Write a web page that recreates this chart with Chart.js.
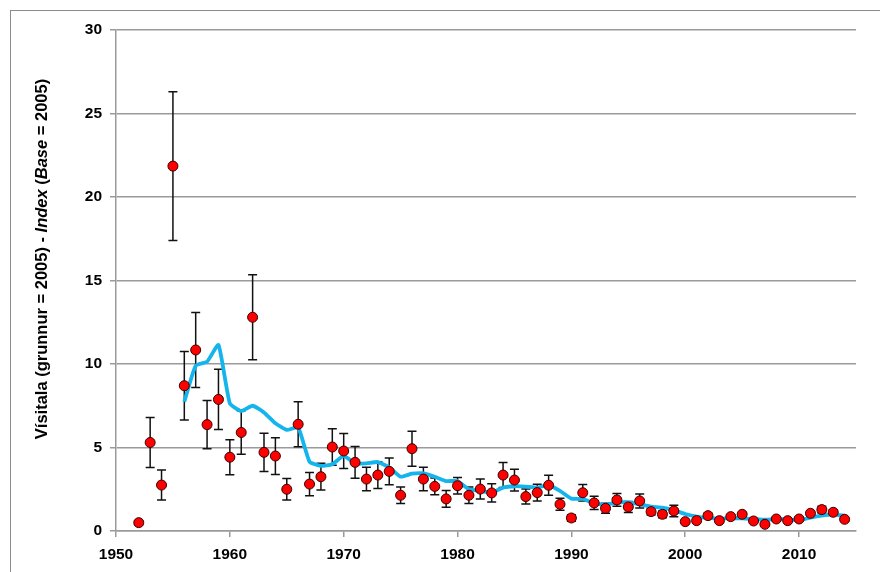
<!DOCTYPE html>
<html>
<head>
<meta charset="utf-8">
<script src="https://cdn.jsdelivr.net/npm/chart.js@4.4.1/dist/chart.umd.min.js"></script>
<style>
  html, body { margin: 0; padding: 0; background: #fff; }
  #wrap { width: 880px; height: 572px; }
</style>
</head>
<body>
<div id="wrap"><canvas id="indexChart" width="880" height="572"></canvas></div>
<script>
// Years with a measured index value (1952 - 2014)
const years = [];
for (let y = 1952; y <= 2014; y++) years.push(y);

// Index values (red points), base 2005
const indexValues = [
  0.5, 5.3, 2.75, 21.85, 8.7, 10.84, 6.37, 7.88, 4.42, 5.9,
  12.8, 4.71, 4.49, 2.5, 6.39, 2.81, 3.25, 5.03, 4.79, 4.11,
  3.11, 3.35, 3.57, 2.14, 4.93, 3.11, 2.67, 1.92, 2.71, 2.14,
  2.51, 2.28, 3.35, 3.05, 2.06, 2.3, 2.74, 1.6, 0.78, 2.29,
  1.68, 1.36, 1.86, 1.44, 1.8, 1.16, 1.0, 1.2, 0.56, 0.62,
  0.92, 0.62, 0.86, 1.0, 0.6, 0.4, 0.72, 0.62, 0.72, 1.06,
  1.28, 1.12, 0.7
];

// Half length of the error bars (+/-)
const errorValues = [
  0.12, 1.5, 0.9, 4.45, 2.05, 2.25, 1.45, 1.8, 1.05, 1.3,
  2.55, 1.15, 1.1, 0.65, 1.35, 0.7, 0.8, 1.1, 1.05, 0.95,
  0.7, 0.8, 0.8, 0.5, 1.05, 0.7, 0.5, 0.5, 0.5, 0.5,
  0.6, 0.55, 0.75, 0.65, 0.45, 0.5, 0.6, 0.36, 0.2, 0.5,
  0.4, 0.3, 0.38, 0.33, 0.42, 0.2, 0.2, 0.34, 0.1, 0.1,
  0.15, 0.1, 0.1, 0.1, 0.1, 0.1, 0.1, 0.1, 0.12, 0.15,
  0.2, 0.15, 0.1
];

// Trend line (blue), starts in 1956
const trendYears = [];
for (let y = 1956; y <= 2014; y++) trendYears.push(y);
const trendValues = [
  7.74, 9.9, 10.14, 11.14, 7.64, 7.19, 7.5, 7.1, 6.45, 6.05,
  6.2, 4.15, 3.9, 4.0, 4.5, 4.05, 4.05, 4.13, 3.81, 3.25,
  3.43, 3.45, 3.25, 2.99, 2.99, 2.5, 2.4, 2.3, 2.6, 2.68,
  2.66, 2.6, 2.75, 2.4, 1.94, 1.92, 1.66, 1.6, 1.7, 1.72,
  1.6, 1.46, 1.4, 1.24, 1.02, 0.86, 0.78, 0.74, 0.76, 0.76,
  0.72, 0.68, 0.7, 0.7, 0.64, 0.8, 0.92, 0.98, 0.92
];

// Axis ticks
const xTicks = [1950, 1960, 1970, 1980, 1990, 2000, 2010];
const yTicks = [0, 5, 10, 15, 20, 25, 30];

const FONT = '"Liberation Sans", Arial, sans-serif';
const GRID = '#9a9a9a';

// Error bars drawn behind the datasets
const errorBarPlugin = {
  id: 'errorBars',
  beforeDatasetsDraw(chart) {
    const ctx = chart.ctx;
    const xs = chart.scales.x, ys = chart.scales.y;
    ctx.save();
    ctx.strokeStyle = '#111';
    ctx.lineWidth = 1.5;
    years.forEach((yr, i) => {
      const px = xs.getPixelForValue(yr);
      const top = ys.getPixelForValue(indexValues[i] + errorValues[i]);
      const bot = ys.getPixelForValue(Math.max(0, indexValues[i] - errorValues[i]));
      ctx.beginPath();
      ctx.moveTo(px, top); ctx.lineTo(px, bot);
      ctx.moveTo(px - 4.5, top); ctx.lineTo(px + 4.5, top);
      ctx.moveTo(px - 4.5, bot); ctx.lineTo(px + 4.5, bot);
      ctx.stroke();
    });
    ctx.restore();
  }
};

// Frame and the y axis title (mixed upright / italic parts)
const framePlugin = {
  id: 'frameAndTitle',
  beforeDraw(chart) {
    const ctx = chart.ctx;
    ctx.save();
    ctx.fillStyle = '#fff';
    ctx.fillRect(0, 0, chart.width, chart.height);
    ctx.strokeStyle = '#8c8c8c';
    ctx.lineWidth = 1;
    ctx.strokeRect(10.5, 10.5, chart.width + 20, chart.height + 20);
    ctx.restore();
  },
  afterDraw(chart) {
    const ctx = chart.ctx;
    const parts = [
      ['Vísitala (grunnur = 2005) - ', 'bold'],
      ['Index', 'italic bold'],
      [' (', 'bold'],
      ['Base', 'italic bold'],
      [' = 2005)', 'bold']
    ];
    const size = 16.5;
    ctx.save();
    let total = 0;
    parts.forEach(p => {
      ctx.font = p[1] + ' ' + size + 'px ' + FONT;
      total += ctx.measureText(p[0]).width;
    });
    ctx.translate(42, 259);
    ctx.rotate(-Math.PI / 2);
    ctx.fillStyle = '#000';
    ctx.textBaseline = 'middle';
    let x = -total / 2;
    parts.forEach(p => {
      ctx.font = p[1] + ' ' + size + 'px ' + FONT;
      ctx.fillText(p[0], x, 0);
      x += ctx.measureText(p[0]).width;
    });
    ctx.restore();
  }
};

document.addEventListener('DOMContentLoaded', function() {
  const ctx = document.getElementById('indexChart').getContext('2d');

  const chartData = {
    datasets: [
      {
        type: 'scatter',
        label: 'Vísitala',
        data: years.map((yr, i) => ({ x: yr, y: indexValues[i] })),
        backgroundColor: '#ff0000',
        borderColor: '#3a0000',
        borderWidth: 1,
        pointRadius: 5,
        order: 0
      },
      {
        type: 'line',
        label: 'Trend',
        data: trendYears.map((yr, i) => ({ x: yr, y: trendValues[i] })),
        borderColor: '#14b4ec',
        borderWidth: 3.8,
        pointRadius: 0,
        fill: false,
        tension: 0.15,
        order: 1
      }
    ]
  };

  const config = {
    data: chartData,
    options: {
      responsive: false,
      animation: false,
      layout: { padding: { top: 30, right: 24, left: 0, bottom: 0 } },
      plugins: {
        legend: { display: false },
        tooltip: { enabled: false }
      },
      scales: {
        x: {
          type: 'linear',
          min: 1950,
          max: 2015,
          afterBuildTicks: s => { s.ticks = xTicks.map(v => ({ value: v })); },
          afterFit: s => { s.height = 41; },
          ticks: {
            callback: v => String(v),
            color: '#000',
            padding: 8,
            maxRotation: 0,
            font: { family: FONT, size: 15.5, weight: 'bold' }
          },
          grid: { drawOnChartArea: false, drawTicks: true, tickLength: 6, color: GRID, lineWidth: 1.5 },
          border: { color: GRID, width: 1.5 }
        },
        y: {
          min: 0,
          max: 30,
          afterBuildTicks: s => { s.ticks = yTicks.map(v => ({ value: v })); },
          afterFit: s => { s.width = 116; },
          ticks: {
            color: '#000',
            padding: 8,
            font: { family: FONT, size: 15.5, weight: 'bold' }
          },
          grid: { color: GRID, lineWidth: 1.5, tickLength: 6 },
          border: { color: GRID, width: 1.5 }
        }
      }
    },
    plugins: [framePlugin, errorBarPlugin]
  };

  new Chart(ctx, config);
});
</script>
</body>
</html>
